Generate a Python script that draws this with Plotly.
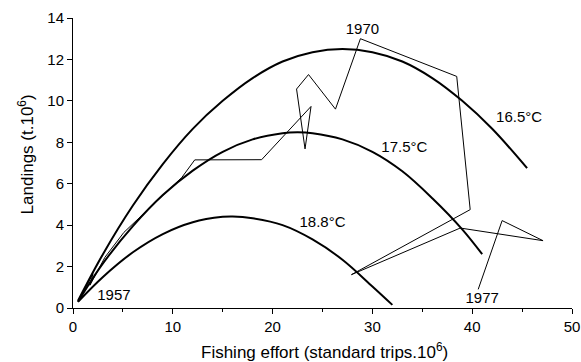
import plotly.graph_objects as go

# Observed path 1957-1977 (effort, landings)
obs_years = list(range(1957, 1978))
obs_effort = [0.5, 2.0, 1.7, 3.2, 5.1, 10.9, 12.2, 18.9, 23.85, 23.25, 22.4, 23.6, 26.3,
              28.8, 38.45, 39.8, 27.9, 38.8, 47.1, 43.0, 40.6]
obs_land = [0.3, 1.65, 1.1, 2.45, 3.65, 6.3, 7.15, 7.16, 9.73, 7.68, 10.57, 11.27, 9.6,
            13.0, 11.18, 4.75, 1.61, 3.86, 3.25, 4.22, 0.9]

# Equilibrium curves
c165_x = [0.5, 3, 6, 9, 12, 15, 18, 21, 24, 27, 30, 33, 36, 39, 42, 45.5]
c165_y = [0.35, 2.6, 4.95, 6.95, 8.65, 10.0, 11.1, 11.9, 12.35, 12.5, 12.35, 11.9, 11.1, 10.0, 8.65, 6.75]

c175_x = [0.5, 3, 6, 9, 12, 15, 18, 21, 22.5, 24, 27, 30, 33, 36, 39, 41]
c175_y = [0.3, 2.15, 3.95, 5.45, 6.63, 7.54, 8.14, 8.44, 8.48, 8.44, 8.14, 7.54, 6.6, 5.3, 3.8, 2.6]

c188_x = [0.5, 3, 6, 9, 12, 15, 16, 18, 21, 24, 27, 30, 32]
c188_y = [0.3, 1.5, 2.69, 3.57, 4.14, 4.4, 4.42, 4.33, 4.0, 3.31, 2.33, 1.04, 0.15]

labels = ["1970", "16.5°C", "17.5°C", "18.8°C", "1957", "1977"]
label_x = [29.0, 44.7, 33.2, 25.0, 4.1, 41.0]
label_y = [13.4, 9.14, 7.69, 4.07, 0.55, 0.4]

x_title = "Fishing effort (standard trips.10<sup>6</sup>)"
y_title = "Landings (t.10<sup>6</sup>)"

FONT = "Liberation Sans, Arial, Helvetica, sans-serif"

fig = go.Figure()
for xs, ys in [(c165_x, c165_y), (c175_x, c175_y), (c188_x, c188_y)]:
    fig.add_trace(go.Scatter(x=xs, y=ys, mode="lines",
                             line=dict(color="black", width=2, shape="spline", smoothing=1.0),
                             showlegend=False, hoverinfo="skip"))
fig.add_trace(go.Scatter(x=obs_effort, y=obs_land, mode="lines",
                         line=dict(color="black", width=1),
                         text=[str(y) for y in obs_years], showlegend=False))

fig.add_trace(go.Scatter(x=label_x, y=label_y, mode="text", text=labels,
                         textfont=dict(family=FONT, size=15, color="black"),
                         showlegend=False, hoverinfo="skip", cliponaxis=False))

fig.add_annotation(text=x_title, xref="paper", yref="paper", x=0.505, y=-0.147,
                   xanchor="center", yanchor="middle", showarrow=False,
                   font=dict(family=FONT, size=17, color="black"))
fig.add_annotation(text=y_title, xref="paper", yref="paper", x=-0.094, y=0.53,
                   xanchor="center", yanchor="middle", showarrow=False, textangle=-90,
                   font=dict(family=FONT, size=17, color="black"))

fig.update_layout(
    width=581, height=362,
    margin=dict(l=73, r=9, t=18, b=54),
    paper_bgcolor="white", plot_bgcolor="white",
    font=dict(family=FONT, size=15, color="black"),
    xaxis=dict(range=[0, 50], tickvals=[0, 10, 20, 30, 40, 50], ticks="outside", ticklen=5,
               tickcolor="black", showline=True, linecolor="black", linewidth=1,
               showgrid=False, zeroline=False, automargin=False,
               tickfont=dict(size=15), ticklabeloverflow="allow",
               minor=dict(dtick=5, tick0=0, ticks="outside", ticklen=3, tickcolor="black")),
    yaxis=dict(range=[0, 14], tickvals=[0, 2, 4, 6, 8, 10, 12, 14], ticks="outside", ticklen=5,
               tickcolor="black", showline=True, linecolor="black", linewidth=1,
               showgrid=False, zeroline=False, automargin=False,
               tickfont=dict(size=15)),
)

fig.write_html("out.html", config={"displayModeBar": False},
               post_script="document.body.style.margin='0';document.body.style.overflow='hidden';")
